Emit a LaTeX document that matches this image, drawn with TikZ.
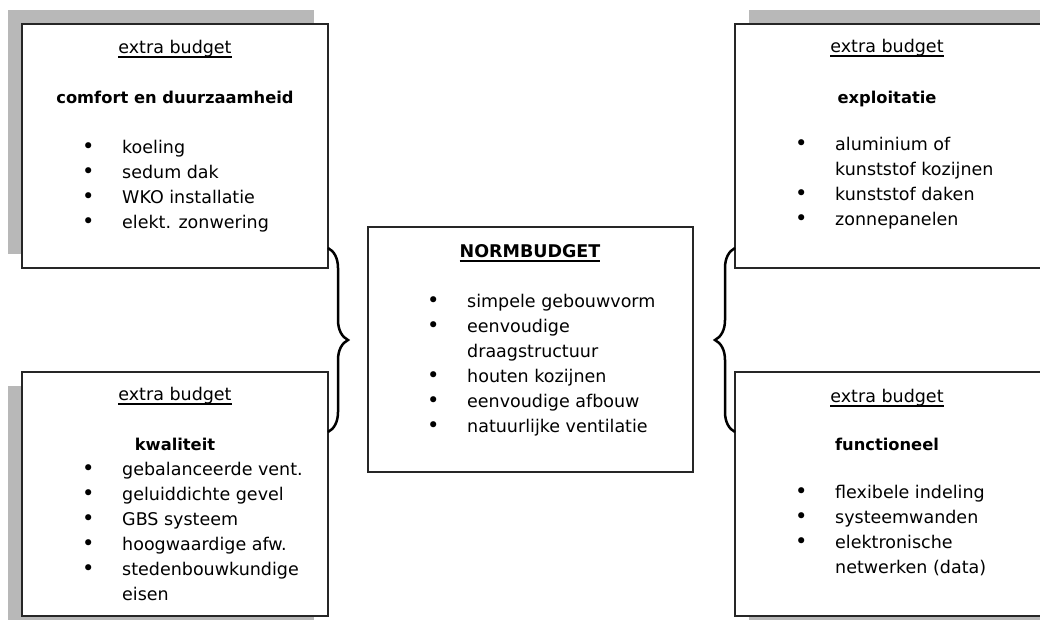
\documentclass[tikz,border=0pt]{standalone}
\usepackage{fontspec}
\setmainfont{DejaVu Sans}
\usetikzlibrary{decorations.pathreplacing}

\newcommand\bul{\makebox[40pt][l]{\raisebox{-0.5pt}{\fontsize{21}{25}\selectfont •}}}
\newcommand\nob{\hspace*{40pt}}
\newcommand\ulined[1]{\sbox0{#1}\rlap{\rule[-4.5pt]{\wd0}{1.2pt}}\usebox0}

\begin{document}
\begin{tikzpicture}[x=1pt,y=-1pt,
    budgetbox/.style ={draw=black!85, line width=1.3pt, fill=white, inner sep=0pt, outer sep=0pt,
                       minimum width=306pt, minimum height=244pt, anchor=north west},
    dither/.style ={fill=black!28},
    head/.style ={anchor=base, inner sep=0pt, font=\fontsize{17.5}{25}\selectfont},
    topic/.style ={anchor=base, inner sep=0pt, font=\fontsize{16.3}{25}\selectfont\bfseries},
    item/.style ={anchor=base west, inner sep=0pt, font=\fontsize{17.5}{25}\selectfont},
    bracket/.style ={decorate, decoration={brace, amplitude=20pt}, line width=2.5pt}]
   \useasboundingbox (0,0) rectangle (1040,619);
   % shadows
   \fill[dither] (8,10) rectangle ++(306,244);
   \fill[dither] (8,386) rectangle ++(306,244);
   \fill[dither] (749,10) rectangle ++(306,244);
   \fill[dither] (749,386) rectangle ++(306,244);
   % boxes
   \node[budgetbox] (tl) at (22,24) {};
   \node[budgetbox] (bl) at (22,372) {};
   \node[budgetbox] (tr) at (735,24) {};
   \node[budgetbox] (br) at (735,372) {};
   \node[budgetbox, minimum width=325pt, minimum height=245pt] (norm) at (368,227) {};
   % comfort en duurzaamheid
   \node[head] (tl-a) at (175,53) {\ulined{extra budget}};
   \node[topic] (tl-b) at (175,103) {comfort en duurzaamheid};
   \foreach \txt [count=\i from 0] in {\bul koeling, \bul sedum dak, \bul WKO installatie, \bul elekt. zonwering}
     \node[item] (tl-\i) at (82,{153+25*\i}) {\txt};
   % kwaliteit
   \node[head] (bl-a) at (175,400) {\ulined{extra budget}};
   \node[topic] (bl-b) at (175,450) {kwaliteit};
   \foreach \txt [count=\i from 0] in {\bul gebalanceerde vent., \bul geluiddichte gevel, \bul GBS systeem,
       \bul hoogwaardige afw., \bul stedenbouwkundige, \nob eisen}
     \node[item] (bl-\i) at (82,{475+25*\i}) {\txt};
   % exploitatie
   \node[head] (tr-a) at (887,52) {\ulined{extra budget}};
   \node[topic] (tr-b) at (887,103) {exploitatie};
   \foreach \txt [count=\i from 0] in {\bul aluminium of, \nob kunststof kozijnen, \bul kunststof daken, \bul zonnepanelen}
     \node[item] (tr-\i) at (795,{150+25*\i}) {\txt};
   % functioneel
   \node[head] (br-a) at (887,402) {\ulined{extra budget}};
   \node[topic] (br-b) at (887,450) {functioneel};
   \foreach \txt [count=\i from 0] in {\bul flexibele indeling, \bul systeemwanden, \bul elektronische, \nob netwerken (data)}
     \node[item] (br-\i) at (795,{498+25*\i}) {\txt};
   % normbudget
   \node[topic, font=\fontsize{17.5}{25}\selectfont\bfseries] (norm-a) at (530,257) {\ulined{NORMBUDGET}};
   \foreach \txt [count=\i from 0] in {\bul simpele gebouwvorm, \bul eenvoudige, \nob draagstructuur,
       \bul houten kozijnen, \bul eenvoudige afbouw, \bul natuurlijke ventilatie}
     \node[item] (norm-\i) at (427,{307+25*\i}) {\txt};
   % braces
   \coordinate (lb-top) at ([yshift=20pt]tl.south east);
   \coordinate (lb-bot) at ([yshift=-60pt]bl.north east);
   \coordinate (rb-top) at ([yshift=20pt]tr.south west);
   \coordinate (rb-bot) at ([yshift=-60pt]br.north west);
   \draw[bracket] (lb-top) -- (lb-bot);
   \draw[bracket] (rb-bot) -- (rb-top);
 \end{tikzpicture}
\end{document}
